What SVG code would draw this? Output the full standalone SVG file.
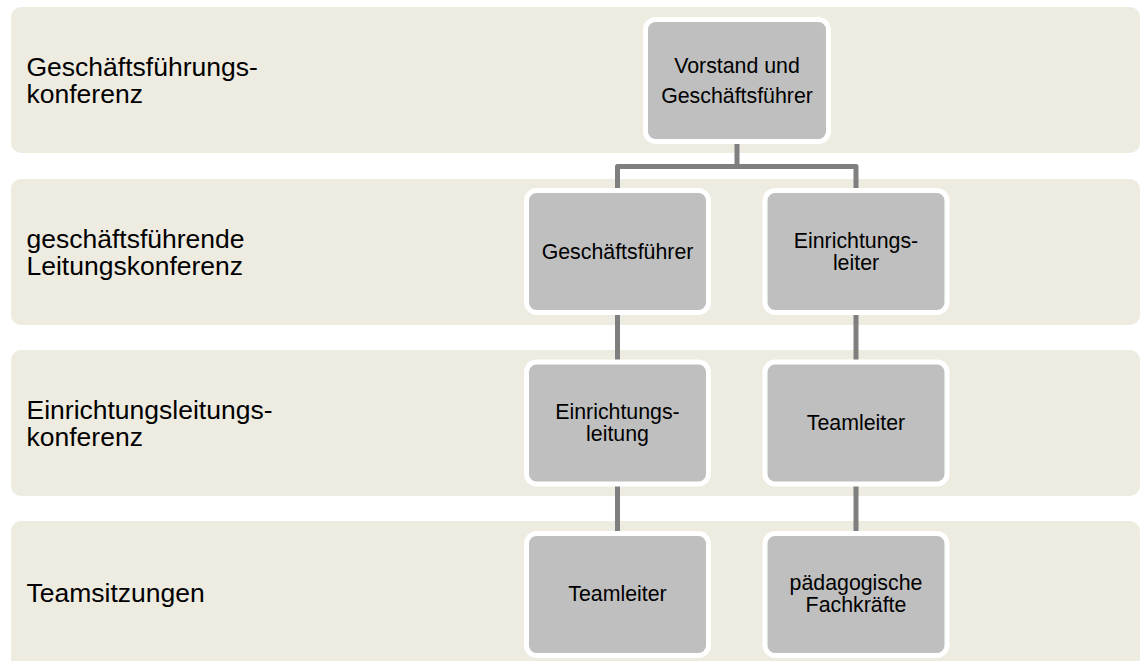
<svg xmlns="http://www.w3.org/2000/svg" width="1140" height="661" viewBox="0 0 1140 661">
<style>
.band{fill:#eeebe0}
.lbl{font-family:"Liberation Sans",Arial,sans-serif;font-size:26.5px;fill:#000}
.node rect{fill:#bfbfbf;stroke:#ffffff;stroke-width:5}
.node text{font-family:"Liberation Sans",Arial,sans-serif;font-size:21.33px;fill:#000;text-anchor:middle}
.conn{fill:none;stroke:#7f7f7f;stroke-width:5;stroke-linejoin:round}
</style>
<rect width="1140" height="661" fill="#ffffff"/>
<g id="bands">
<g id="band1"><rect class="band" x="11" y="7" width="1129" height="146" rx="10"/><text class="lbl" x="26.5" y="76">Geschäftsführungs-</text><text class="lbl" x="26.5" y="103">konferenz</text></g>
<g id="band2"><rect class="band" x="11" y="179" width="1129" height="146" rx="10"/><text class="lbl" x="26.5" y="248">geschäftsführende</text><text class="lbl" x="26.5" y="275">Leitungskonferenz</text></g>
<g id="band3"><rect class="band" x="11" y="350" width="1129" height="146" rx="10"/><text class="lbl" x="26.5" y="418.5">Einrichtungsleitungs-</text><text class="lbl" x="26.5" y="445.5">konferenz</text></g>
<g id="band4"><rect class="band" x="11" y="521" width="1129" height="160" rx="10"/><text class="lbl" x="26.5" y="601.5">Teamsitzungen</text></g>
</g>
<g id="connectors">
<path class="conn" d="M737 141 V166.5 H617.5 V191 M737 166.5 H856 V191"/>
<path class="conn" d="M617.5 312 V362"/>
<path class="conn" d="M856 312 V362"/>
<path class="conn" d="M617.5 483 V534"/>
<path class="conn" d="M856 483 V534"/>
</g>
<g id="n_vorstand" class="node"><rect x="645.5" y="19.5" width="183" height="122" rx="10"/><text x="737" y="72.7">Vorstand und</text><text x="737" y="102.7">Geschäftsführer</text></g>
<g id="n_gf" class="node"><rect x="526.5" y="190.5" width="182" height="122" rx="10"/><text x="617.5" y="259.3">Geschäftsführer</text></g>
<g id="n_el1" class="node"><rect x="765" y="190.5" width="182" height="122" rx="10"/><text x="856" y="248.3">Einrichtungs-</text><text x="856" y="270">leiter</text></g>
<g id="n_el2" class="node"><rect x="526.5" y="362" width="182" height="122" rx="10"/><text x="617.5" y="419">Einrichtungs-</text><text x="617.5" y="440.7">leitung</text></g>
<g id="n_tl1" class="node"><rect x="765" y="362" width="182" height="122" rx="10"/><text x="856" y="430">Teamleiter</text></g>
<g id="n_tl2" class="node"><rect x="526.5" y="533.5" width="182" height="122" rx="10"/><text x="617.5" y="601">Teamleiter</text></g>
<g id="n_pf" class="node"><rect x="765" y="533.5" width="182" height="122" rx="10"/><text x="856" y="590">pädagogische</text><text x="856" y="611.7">Fachkräfte</text></g>
</svg>
